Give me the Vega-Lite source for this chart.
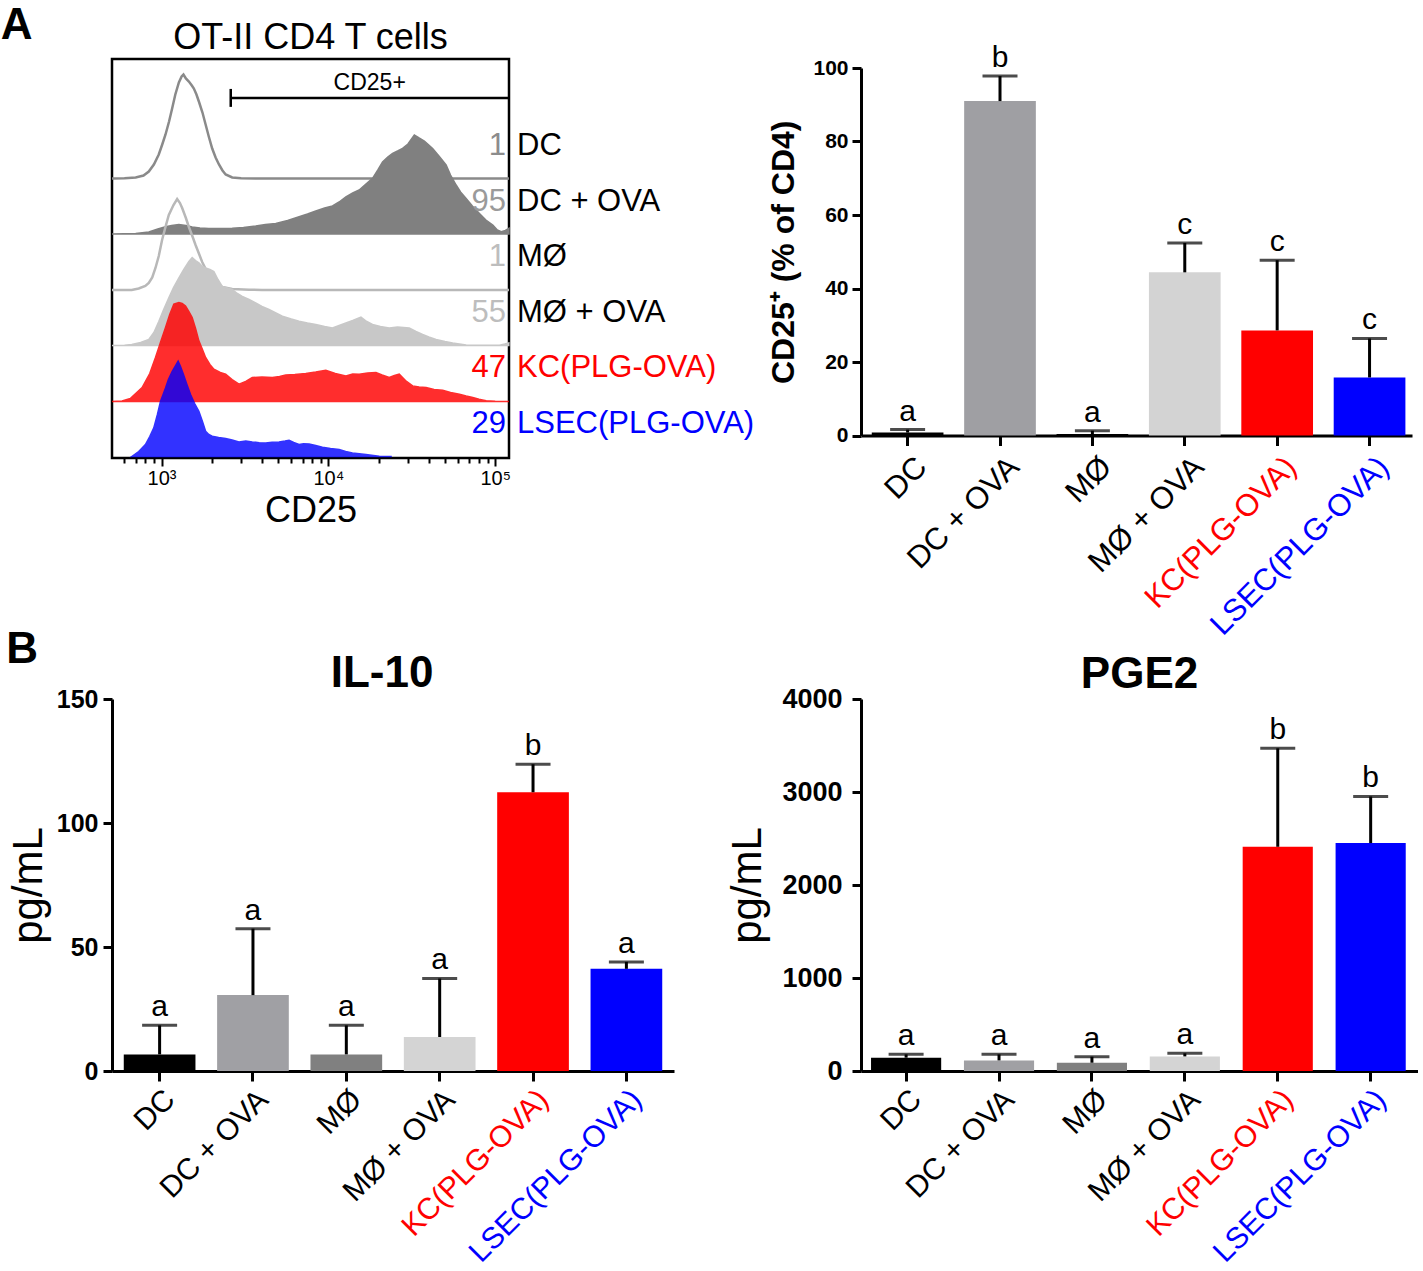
{
  "$schema": "https://vega.github.io/schema/vega-lite/v6.json",
  "padding": {"left": 0, "top": 3, "right": 0, "bottom": 0},
  "background": "#ffffff",
  "config": {
    "font": "Liberation Sans",
    "view": {"stroke": null},
    "axis": {"grid": false, "domainColor": "#000000", "tickColor": "#000000", "titleColor": "#000000"},
    "title": {"color": "#000000"}
  },
  "datasets": {
    "hist": [
      {"sample":"DC","cd25":505,"count":0},{"sample":"DC","cd25":600,"count":0.3},{"sample":"DC","cd25":700,"count":1},{"sample":"DC","cd25":780,"count":3},{"sample":"DC","cd25":839,"count":7},{"sample":"DC","cd25":900,"count":14},{"sample":"DC","cd25":963,"count":24},{"sample":"DC","cd25":1010,"count":34},{"sample":"DC","cd25":1057,"count":44},{"sample":"DC","cd25":1110,"count":57},{"sample":"DC","cd25":1158,"count":70},{"sample":"DC","cd25":1210,"count":84},{"sample":"DC","cd25":1271,"count":96},{"sample":"DC","cd25":1320,"count":102},{"sample":"DC","cd25":1354,"count":104},{"sample":"DC","cd25":1400,"count":100},{"sample":"DC","cd25":1459,"count":97},{"sample":"DC","cd25":1520,"count":93},{"sample":"DC","cd25":1563,"count":90},{"sample":"DC","cd25":1620,"count":84},{"sample":"DC","cd25":1675,"count":77},{"sample":"DC","cd25":1760,"count":66},{"sample":"DC","cd25":1838,"count":54},{"sample":"DC","cd25":1920,"count":42},{"sample":"DC","cd25":2013,"count":30},{"sample":"DC","cd25":2110,"count":21},{"sample":"DC","cd25":2210,"count":14},{"sample":"DC","cd25":2320,"count":8},{"sample":"DC","cd25":2424,"count":4},{"sample":"DC","cd25":2654,"count":1},{"sample":"DC","cd25":3000,"count":0.3},{"sample":"DC","cd25":4000,"count":0},{"sample":"DC","cd25":121000,"count":0},
      {"sample":"DC + OVA","cd25":505,"count":0},{"sample":"DC + OVA","cd25":700,"count":0.5},{"sample":"DC + OVA","cd25":839,"count":2},{"sample":"DC + OVA","cd25":950,"count":5},{"sample":"DC + OVA","cd25":1057,"count":7.3},{"sample":"DC + OVA","cd25":1150,"count":8.5},{"sample":"DC + OVA","cd25":1271,"count":9.6},{"sample":"DC + OVA","cd25":1400,"count":8.5},{"sample":"DC + OVA","cd25":1527,"count":7},{"sample":"DC + OVA","cd25":1700,"count":6},{"sample":"DC + OVA","cd25":1924,"count":5.6},{"sample":"DC + OVA","cd25":2300,"count":5.4},{"sample":"DC + OVA","cd25":2654,"count":5.8},{"sample":"DC + OVA","cd25":3100,"count":6.5},{"sample":"DC + OVA","cd25":3669,"count":8},{"sample":"DC + OVA","cd25":4200,"count":9.5},{"sample":"DC + OVA","cd25":4839,"count":10.6},{"sample":"DC + OVA","cd25":5700,"count":13.5},{"sample":"DC + OVA","cd25":6677,"count":17.3},{"sample":"DC + OVA","cd25":7500,"count":20},{"sample":"DC + OVA","cd25":8413,"count":23},{"sample":"DC + OVA","cd25":9500,"count":26},{"sample":"DC + OVA","cd25":10590,"count":28},{"sample":"DC + OVA","cd25":11600,"count":32},{"sample":"DC + OVA","cd25":12740,"count":37},{"sample":"DC + OVA","cd25":14000,"count":41},{"sample":"DC + OVA","cd25":15300,"count":44},{"sample":"DC + OVA","cd25":16800,"count":50},{"sample":"DC + OVA","cd25":18400,"count":55.6},{"sample":"DC + OVA","cd25":19800,"count":64},{"sample":"DC + OVA","cd25":21130,"count":72},{"sample":"DC + OVA","cd25":22700,"count":77},{"sample":"DC + OVA","cd25":24270,"count":80.6},{"sample":"DC + OVA","cd25":26000,"count":83},{"sample":"DC + OVA","cd25":27860,"count":85.6},{"sample":"DC + OVA","cd25":30000,"count":90},{"sample":"DC + OVA","cd25":32760,"count":99},{"sample":"DC + OVA","cd25":35000,"count":96},{"sample":"DC + OVA","cd25":37620,"count":93},{"sample":"DC + OVA","cd25":40000,"count":89},{"sample":"DC + OVA","cd25":42180,"count":85.6},{"sample":"DC + OVA","cd25":46000,"count":78},{"sample":"DC + OVA","cd25":50790,"count":69},{"sample":"DC + OVA","cd25":54000,"count":59},{"sample":"DC + OVA","cd25":58330,"count":49},{"sample":"DC + OVA","cd25":62000,"count":42},{"sample":"DC + OVA","cd25":66970,"count":35.6},{"sample":"DC + OVA","cd25":73000,"count":28},{"sample":"DC + OVA","cd25":80480,"count":20.6},{"sample":"DC + OVA","cd25":88000,"count":14},{"sample":"DC + OVA","cd25":96760,"count":9},{"sample":"DC + OVA","cd25":103000,"count":4},{"sample":"DC + OVA","cd25":108700,"count":2.3},{"sample":"DC + OVA","cd25":115000,"count":3.5},{"sample":"DC + OVA","cd25":121000,"count":5.6},
      {"sample":"MØ","cd25":505,"count":0},{"sample":"MØ","cd25":663,"count":0},{"sample":"MØ","cd25":730,"count":1.5},{"sample":"MØ","cd25":800,"count":4},{"sample":"MØ","cd25":839,"count":7},{"sample":"MØ","cd25":880,"count":12.6},{"sample":"MØ","cd25":920,"count":22},{"sample":"MØ","cd25":963,"count":34},{"sample":"MØ","cd25":1008,"count":50},{"sample":"MØ","cd25":1060,"count":64},{"sample":"MØ","cd25":1106,"count":75},{"sample":"MØ","cd25":1180,"count":85},{"sample":"MØ","cd25":1241,"count":91},{"sample":"MØ","cd25":1290,"count":87},{"sample":"MØ","cd25":1330,"count":82},{"sample":"MØ","cd25":1400,"count":72},{"sample":"MØ","cd25":1459,"count":63},{"sample":"MØ","cd25":1530,"count":54},{"sample":"MØ","cd25":1600,"count":45},{"sample":"MØ","cd25":1680,"count":36},{"sample":"MØ","cd25":1753,"count":28},{"sample":"MØ","cd25":1840,"count":21},{"sample":"MØ","cd25":1924,"count":16},{"sample":"MØ","cd25":2013,"count":11},{"sample":"MØ","cd25":2110,"count":8},{"sample":"MØ","cd25":2312,"count":3},{"sample":"MØ","cd25":2654,"count":1},{"sample":"MØ","cd25":3345,"count":0.3},{"sample":"MØ","cd25":4000,"count":0},{"sample":"MØ","cd25":121000,"count":0},
      {"sample":"MØ + OVA","cd25":505,"count":0},{"sample":"MØ + OVA","cd25":600,"count":0.3},{"sample":"MØ + OVA","cd25":663,"count":1},{"sample":"MØ + OVA","cd25":750,"count":3},{"sample":"MØ + OVA","cd25":839,"count":6},{"sample":"MØ + OVA","cd25":900,"count":13},{"sample":"MØ + OVA","cd25":963,"count":24},{"sample":"MØ + OVA","cd25":1030,"count":36},{"sample":"MØ + OVA","cd25":1106,"count":47.6},{"sample":"MØ + OVA","cd25":1180,"count":58},{"sample":"MØ + OVA","cd25":1271,"count":67.6},{"sample":"MØ + OVA","cd25":1360,"count":76},{"sample":"MØ + OVA","cd25":1459,"count":84},{"sample":"MØ + OVA","cd25":1527,"count":88},{"sample":"MØ + OVA","cd25":1600,"count":85},{"sample":"MØ + OVA","cd25":1675,"count":82.6},{"sample":"MØ + OVA","cd25":1760,"count":79},{"sample":"MØ + OVA","cd25":1838,"count":77.6},{"sample":"MØ + OVA","cd25":1950,"count":76},{"sample":"MØ + OVA","cd25":2061,"count":74},{"sample":"MØ + OVA","cd25":2180,"count":66},{"sample":"MØ + OVA","cd25":2312,"count":59},{"sample":"MØ + OVA","cd25":2480,"count":57.5},{"sample":"MØ + OVA","cd25":2654,"count":56},{"sample":"MØ + OVA","cd25":2850,"count":52},{"sample":"MØ + OVA","cd25":3048,"count":49},{"sample":"MØ + OVA","cd25":3350,"count":46},{"sample":"MØ + OVA","cd25":3669,"count":42.6},{"sample":"MØ + OVA","cd25":4000,"count":39},{"sample":"MØ + OVA","cd25":4410,"count":36},{"sample":"MØ + OVA","cd25":4850,"count":32.5},{"sample":"MØ + OVA","cd25":5302,"count":29.3},{"sample":"MØ + OVA","cd25":6000,"count":26.5},{"sample":"MØ + OVA","cd25":6677,"count":24.3},{"sample":"MØ + OVA","cd25":7500,"count":22.5},{"sample":"MØ + OVA","cd25":8413,"count":21},{"sample":"MØ + OVA","cd25":9500,"count":19},{"sample":"MØ + OVA","cd25":10590,"count":17.6},{"sample":"MØ + OVA","cd25":11600,"count":20},{"sample":"MØ + OVA","cd25":12740,"count":22.6},{"sample":"MØ + OVA","cd25":14000,"count":25},{"sample":"MØ + OVA","cd25":15680,"count":28.3},{"sample":"MØ + OVA","cd25":17000,"count":24},{"sample":"MØ + OVA","cd25":18400,"count":21},{"sample":"MØ + OVA","cd25":20500,"count":19},{"sample":"MØ + OVA","cd25":23180,"count":17.6},{"sample":"MØ + OVA","cd25":26000,"count":18.5},{"sample":"MØ + OVA","cd25":30550,"count":17.6},{"sample":"MØ + OVA","cd25":33500,"count":14},{"sample":"MØ + OVA","cd25":36750,"count":11},{"sample":"MØ + OVA","cd25":40000,"count":8.5},{"sample":"MØ + OVA","cd25":44230,"count":6},{"sample":"MØ + OVA","cd25":50000,"count":4},{"sample":"MØ + OVA","cd25":55650,"count":2.6},{"sample":"MØ + OVA","cd25":66970,"count":0.6},{"sample":"MØ + OVA","cd25":90000,"count":0.3},{"sample":"MØ + OVA","cd25":106100,"count":0.3},{"sample":"MØ + OVA","cd25":114000,"count":1.5},{"sample":"MØ + OVA","cd25":120700,"count":2.6},
      {"sample":"KC(PLG-OVA)","cd25":505,"count":0},{"sample":"KC(PLG-OVA)","cd25":580,"count":0.5},{"sample":"KC(PLG-OVA)","cd25":650,"count":3},{"sample":"KC(PLG-OVA)","cd25":765,"count":14},{"sample":"KC(PLG-OVA)","cd25":850,"count":28},{"sample":"KC(PLG-OVA)","cd25":920,"count":44},{"sample":"KC(PLG-OVA)","cd25":990,"count":60},{"sample":"KC(PLG-OVA)","cd25":1057,"count":74},{"sample":"KC(PLG-OVA)","cd25":1120,"count":87},{"sample":"KC(PLG-OVA)","cd25":1186,"count":97.3},{"sample":"KC(PLG-OVA)","cd25":1271,"count":99},{"sample":"KC(PLG-OVA)","cd25":1330,"count":98},{"sample":"KC(PLG-OVA)","cd25":1393,"count":95.6},{"sample":"KC(PLG-OVA)","cd25":1460,"count":90},{"sample":"KC(PLG-OVA)","cd25":1527,"count":84},{"sample":"KC(PLG-OVA)","cd25":1600,"count":73},{"sample":"KC(PLG-OVA)","cd25":1675,"count":60.6},{"sample":"KC(PLG-OVA)","cd25":1760,"count":52},{"sample":"KC(PLG-OVA)","cd25":1838,"count":44},{"sample":"KC(PLG-OVA)","cd25":1950,"count":37},{"sample":"KC(PLG-OVA)","cd25":2061,"count":32.3},{"sample":"KC(PLG-OVA)","cd25":2250,"count":29},{"sample":"KC(PLG-OVA)","cd25":2424,"count":27.3},{"sample":"KC(PLG-OVA)","cd25":2650,"count":22},{"sample":"KC(PLG-OVA)","cd25":2914,"count":17.3},{"sample":"KC(PLG-OVA)","cd25":3200,"count":20},{"sample":"KC(PLG-OVA)","cd25":3500,"count":24},{"sample":"KC(PLG-OVA)","cd25":4000,"count":24.5},{"sample":"KC(PLG-OVA)","cd25":4616,"count":24},{"sample":"KC(PLG-OVA)","cd25":5100,"count":25},{"sample":"KC(PLG-OVA)","cd25":5557,"count":26.6},{"sample":"KC(PLG-OVA)","cd25":6300,"count":27},{"sample":"KC(PLG-OVA)","cd25":7324,"count":28},{"sample":"KC(PLG-OVA)","cd25":8400,"count":29.5},{"sample":"KC(PLG-OVA)","cd25":9656,"count":31.3},{"sample":"KC(PLG-OVA)","cd25":11000,"count":28},{"sample":"KC(PLG-OVA)","cd25":12740,"count":25.6},{"sample":"KC(PLG-OVA)","cd25":14000,"count":27.5},{"sample":"KC(PLG-OVA)","cd25":15300,"count":27.3},{"sample":"KC(PLG-OVA)","cd25":17200,"count":28.5},{"sample":"KC(PLG-OVA)","cd25":19290,"count":29},{"sample":"KC(PLG-OVA)","cd25":21000,"count":26.5},{"sample":"KC(PLG-OVA)","cd25":23180,"count":24},{"sample":"KC(PLG-OVA)","cd25":24900,"count":26},{"sample":"KC(PLG-OVA)","cd25":26610,"count":27.3},{"sample":"KC(PLG-OVA)","cd25":29000,"count":21},{"sample":"KC(PLG-OVA)","cd25":32000,"count":15.6},{"sample":"KC(PLG-OVA)","cd25":35000,"count":14.5},{"sample":"KC(PLG-OVA)","cd25":38500,"count":14},{"sample":"KC(PLG-OVA)","cd25":43000,"count":12},{"sample":"KC(PLG-OVA)","cd25":48430,"count":11.3},{"sample":"KC(PLG-OVA)","cd25":54000,"count":9},{"sample":"KC(PLG-OVA)","cd25":61030,"count":7.3},{"sample":"KC(PLG-OVA)","cd25":67000,"count":5.5},{"sample":"KC(PLG-OVA)","cd25":73400,"count":4},{"sample":"KC(PLG-OVA)","cd25":80000,"count":2.3},{"sample":"KC(PLG-OVA)","cd25":88270,"count":0.7},{"sample":"KC(PLG-OVA)","cd25":100000,"count":0.2},{"sample":"KC(PLG-OVA)","cd25":121000,"count":0},
      {"sample":"LSEC(PLG-OVA)","cd25":663,"count":0},{"sample":"LSEC(PLG-OVA)","cd25":730,"count":5},{"sample":"LSEC(PLG-OVA)","cd25":801,"count":12},{"sample":"LSEC(PLG-OVA)","cd25":850,"count":20},{"sample":"LSEC(PLG-OVA)","cd25":899,"count":28.6},{"sample":"LSEC(PLG-OVA)","cd25":945,"count":42},{"sample":"LSEC(PLG-OVA)","cd25":986,"count":55},{"sample":"LSEC(PLG-OVA)","cd25":1057,"count":68.6},{"sample":"LSEC(PLG-OVA)","cd25":1100,"count":77},{"sample":"LSEC(PLG-OVA)","cd25":1158,"count":85},{"sample":"LSEC(PLG-OVA)","cd25":1258,"count":95.3},{"sample":"LSEC(PLG-OVA)","cd25":1300,"count":90},{"sample":"LSEC(PLG-OVA)","cd25":1354,"count":82},{"sample":"LSEC(PLG-OVA)","cd25":1420,"count":72},{"sample":"LSEC(PLG-OVA)","cd25":1493,"count":62},{"sample":"LSEC(PLG-OVA)","cd25":1580,"count":53},{"sample":"LSEC(PLG-OVA)","cd25":1675,"count":45.3},{"sample":"LSEC(PLG-OVA)","cd25":1760,"count":35},{"sample":"LSEC(PLG-OVA)","cd25":1838,"count":25.3},{"sample":"LSEC(PLG-OVA)","cd25":1920,"count":22},{"sample":"LSEC(PLG-OVA)","cd25":2013,"count":20.3},{"sample":"LSEC(PLG-OVA)","cd25":2200,"count":19},{"sample":"LSEC(PLG-OVA)","cd25":2424,"count":18},{"sample":"LSEC(PLG-OVA)","cd25":2650,"count":16.5},{"sample":"LSEC(PLG-OVA)","cd25":2914,"count":14.6},{"sample":"LSEC(PLG-OVA)","cd25":3200,"count":15.5},{"sample":"LSEC(PLG-OVA)","cd25":3500,"count":14.6},{"sample":"LSEC(PLG-OVA)","cd25":3850,"count":13.8},{"sample":"LSEC(PLG-OVA)","cd25":4213,"count":13.6},{"sample":"LSEC(PLG-OVA)","cd25":4600,"count":14.2},{"sample":"LSEC(PLG-OVA)","cd25":5065,"count":14.6},{"sample":"LSEC(PLG-OVA)","cd25":5500,"count":15.5},{"sample":"LSEC(PLG-OVA)","cd25":5815,"count":16.3},{"sample":"LSEC(PLG-OVA)","cd25":6200,"count":14},{"sample":"LSEC(PLG-OVA)","cd25":6677,"count":12},{"sample":"LSEC(PLG-OVA)","cd25":7100,"count":12.8},{"sample":"LSEC(PLG-OVA)","cd25":7667,"count":12.6},{"sample":"LSEC(PLG-OVA)","cd25":8400,"count":11},{"sample":"LSEC(PLG-OVA)","cd25":9216,"count":9.3},{"sample":"LSEC(PLG-OVA)","cd25":10300,"count":8},{"sample":"LSEC(PLG-OVA)","cd25":11607,"count":7},{"sample":"LSEC(PLG-OVA)","cd25":12700,"count":5},{"sample":"LSEC(PLG-OVA)","cd25":13950,"count":3.6},{"sample":"LSEC(PLG-OVA)","cd25":16800,"count":2},{"sample":"LSEC(PLG-OVA)","cd25":20180,"count":0.3},{"sample":"LSEC(PLG-OVA)","cd25":24000,"count":0}
    ],
    "hlabels": [
      {"sample":"DC","pct":"1"},{"sample":"DC + OVA","pct":"95"},{"sample":"MØ","pct":"1"},{"sample":"MØ + OVA","pct":"55"},{"sample":"KC(PLG-OVA)","pct":"47"},{"sample":"LSEC(PLG-OVA)","pct":"29"}
    ],
    "gate": [{"gate":"CD25+","from":2600,"to":121000}],
    "cd25": [
      {"group":"DC","mean":0.8,"upper":1.6,"letter":"a"},
      {"group":"DC + OVA","mean":91.0,"upper":97.8,"letter":"b"},
      {"group":"MØ","mean":0.4,"upper":1.3,"letter":"a"},
      {"group":"MØ + OVA","mean":44.4,"upper":52.4,"letter":"c"},
      {"group":"KC(PLG-OVA)","mean":28.6,"upper":47.7,"letter":"c"},
      {"group":"LSEC(PLG-OVA)","mean":15.8,"upper":26.4,"letter":"c"}
    ],
    "il10": [
      {"group":"DC","mean":6.7,"upper":18.4,"letter":"a"},
      {"group":"DC + OVA","mean":30.6,"upper":57.4,"letter":"a"},
      {"group":"MØ","mean":6.7,"upper":18.4,"letter":"a"},
      {"group":"MØ + OVA","mean":13.7,"upper":37.3,"letter":"a"},
      {"group":"KC(PLG-OVA)","mean":112.4,"upper":123.7,"letter":"b"},
      {"group":"LSEC(PLG-OVA)","mean":41.2,"upper":44.0,"letter":"a"}
    ],
    "pge2": [
      {"group":"DC","mean":143,"upper":179,"letter":"a"},
      {"group":"DC + OVA","mean":114,"upper":179,"letter":"a"},
      {"group":"MØ","mean":89,"upper":154,"letter":"a"},
      {"group":"MØ + OVA","mean":157,"upper":190,"letter":"a"},
      {"group":"KC(PLG-OVA)","mean":2411,"upper":3470,"letter":"b"},
      {"group":"LSEC(PLG-OVA)","mean":2451,"upper":2952,"letter":"b"}
    ]
  },
  "resolve": {"scale": {"color": "independent"}},
  "spacing": -13,
  "vconcat": [
    {
      "title": {"text": "A", "fontSize": 44, "fontWeight": "bold", "anchor": "start", "frame": "bounds", "dx": -105, "dy": 29, "offset": 0},
      "resolve": {"scale": {"color": "independent"}},
      "spacing": 11,
      "hconcat": [
        {
          "width": 397,
          "height": 399,
          "view": {"stroke": "#000000", "strokeWidth": 2.5},
          "title": {"text": "OT-II CD4 T cells", "fontSize": 36, "fontWeight": "normal", "anchor": "middle", "frame": "group", "offset": 2},
          "resolve": {"scale": {"y": "independent", "color": "independent"}},
          "layer": [
            {
              "data": {"name": "hist"},
              "transform": [{"filter": {"field": "sample", "equal": "DC"}}],
              "mark": {"type": "line", "stroke": "#8a8a8a", "strokeWidth": 2.5},
              "encoding": {
                "x": {"field": "cd25", "type": "quantitative", "title": "CD25",
                  "scale": {"type": "log", "domain": [505, 121000], "nice": false},
                  "axis": {"values": [600,700,800,900,1000,2000,3000,4000,5000,6000,7000,8000,9000,10000,20000,30000,40000,50000,60000,70000,80000,90000,100000],
                    "labelExpr": "datum.value == 1000 ? '10³' : datum.value == 10000 ? '10⁴' : datum.value == 100000 ? '10⁵' : ''",
                    "domain": false, "tickWidth": 2, "labelColor": "#000000",
                    "tickSize": {"condition": {"test": "datum.value == 1000 || datum.value == 10000 || datum.value == 100000", "value": 8}, "value": 5},
                    "labelFontSize": 20, "labelOverlap": false, "labelFlush": false, "labelPadding": 2,
                    "titleFontSize": 36, "titleFontWeight": "normal", "titlePadding": 5}},
                "y": {"field": "count", "type": "quantitative", "scale": {"domain": [0, 100], "range": [119.5, 19.5]}, "axis": null}
              }
            },
            {
              "data": {"name": "hist"},
              "transform": [{"filter": {"field": "sample", "equal": "DC + OVA"}}],
              "mark": {"type": "area", "color": "#808080", "stroke": "#808080", "strokeWidth": 1.5},
              "encoding": {
                "x": {"field": "cd25", "type": "quantitative", "scale": {"type": "log", "domain": [505, 121000], "nice": false}},
                "y": {"field": "count", "type": "quantitative", "scale": {"domain": [0, 100], "range": [175, 75]}, "axis": null}
              }
            },
            {
              "data": {"name": "hist"},
              "transform": [{"filter": {"field": "sample", "equal": "MØ"}}],
              "mark": {"type": "line", "stroke": "#b8b8b8", "strokeWidth": 2.5},
              "encoding": {
                "x": {"field": "cd25", "type": "quantitative", "scale": {"type": "log", "domain": [505, 121000], "nice": false}},
                "y": {"field": "count", "type": "quantitative", "scale": {"domain": [0, 100], "range": [231, 131]}, "axis": null}
              }
            },
            {
              "data": {"name": "hist"},
              "transform": [{"filter": {"field": "sample", "equal": "MØ + OVA"}}],
              "mark": {"type": "area", "color": "#c8c8c8", "stroke": "#c8c8c8", "strokeWidth": 1.5},
              "encoding": {
                "x": {"field": "cd25", "type": "quantitative", "scale": {"type": "log", "domain": [505, 121000], "nice": false}},
                "y": {"field": "count", "type": "quantitative", "scale": {"domain": [0, 100], "range": [286.5, 186.5]}, "axis": null}
              }
            },
            {
              "data": {"name": "hist"},
              "transform": [{"filter": {"field": "sample", "equal": "KC(PLG-OVA)"}}],
              "mark": {"type": "area", "color": "#ff0000", "opacity": 0.82, "stroke": "#ff0000", "strokeWidth": 1.5},
              "encoding": {
                "x": {"field": "cd25", "type": "quantitative", "scale": {"type": "log", "domain": [505, 121000], "nice": false}},
                "y": {"field": "count", "type": "quantitative", "scale": {"domain": [0, 100], "range": [342.5, 242.5]}, "axis": null}
              }
            },
            {
              "data": {"name": "hist"},
              "transform": [{"filter": {"field": "sample", "equal": "LSEC(PLG-OVA)"}}],
              "mark": {"type": "area", "color": "#0000ff", "opacity": 0.8, "stroke": "#0000ff", "strokeWidth": 1.5},
              "encoding": {
                "x": {"field": "cd25", "type": "quantitative", "scale": {"type": "log", "domain": [505, 121000], "nice": false}},
                "y": {"field": "count", "type": "quantitative", "scale": {"domain": [0, 100], "range": [397.5, 297.5]}, "axis": null}
              }
            },
            {
              "data": {"name": "gate"},
              "mark": {"type": "rule", "color": "#000000", "strokeWidth": 2.5},
              "encoding": {
                "x": {"field": "from", "type": "quantitative", "scale": {"type": "log", "domain": [505, 121000], "nice": false}},
                "x2": {"field": "to"},
                "y": {"datum": 90.2, "type": "quantitative", "scale": {"domain": [0, 100], "range": [399, 0]}, "axis": null}
              }
            },
            {
              "data": {"name": "gate"},
              "mark": {"type": "rule", "color": "#000000", "strokeWidth": 2.5},
              "encoding": {
                "x": {"field": "from", "type": "quantitative", "scale": {"type": "log", "domain": [505, 121000], "nice": false}},
                "y": {"datum": 92.5, "type": "quantitative", "scale": {"domain": [0, 100], "range": [399, 0]}, "axis": null},
                "y2": {"datum": 88.0}
              }
            },
            {
              "data": {"name": "gate"},
              "mark": {"type": "text", "color": "#000000", "fontSize": 23, "baseline": "middle", "align": "center"},
              "encoding": {
                "x": {"datum": 17700, "type": "quantitative", "scale": {"type": "log", "domain": [505, 121000], "nice": false}},
                "y": {"datum": 94.0, "type": "quantitative", "scale": {"domain": [0, 100], "range": [399, 0]}, "axis": null},
                "text": {"field": "gate"}
              }
            },
            {
              "data": {"name": "hlabels"},
              "mark": {"type": "text", "fontSize": 31, "align": "right", "baseline": "middle", "dx": -3},
              "encoding": {
                "x": {"datum": 121000, "type": "quantitative", "scale": {"type": "log", "domain": [505, 121000], "nice": false}},
                "y": {"field": "sample", "type": "nominal", "sort": null, "scale": {"type": "point", "domain": ["DC","DC + OVA","MØ","MØ + OVA","KC(PLG-OVA)","LSEC(PLG-OVA)"], "range": [87, 365], "padding": 0}, "axis": null},
                "text": {"field": "pct"},
                "color": {"field": "sample", "type": "nominal", "scale": {"domain": ["DC","DC + OVA","MØ","MØ + OVA","KC(PLG-OVA)","LSEC(PLG-OVA)"], "range": ["#8c8c8c","#9a9a9a","#bdbdbd","#bdbdbd","#ff0000","#0000ff"]}, "legend": null}
              }
            },
            {
              "data": {"name": "hlabels"},
              "mark": {"type": "text", "fontSize": 31, "align": "left", "baseline": "middle", "dx": 8},
              "encoding": {
                "x": {"datum": 121000, "type": "quantitative", "scale": {"type": "log", "domain": [505, 121000], "nice": false}},
                "y": {"field": "sample", "type": "nominal", "sort": null, "scale": {"type": "point", "domain": ["DC","DC + OVA","MØ","MØ + OVA","KC(PLG-OVA)","LSEC(PLG-OVA)"], "range": [87, 365], "padding": 0}, "axis": null},
                "text": {"field": "sample"},
                "color": {"field": "sample", "type": "nominal", "scale": {"domain": ["DC","DC + OVA","MØ","MØ + OVA","KC(PLG-OVA)","LSEC(PLG-OVA)"], "range": ["#000000","#000000","#000000","#000000","#ff0000","#0000ff"]}, "legend": null}
              }
            }
          ]
        },
        {
          "width": 551,
          "height": 376.5,
          "data": {"name": "cd25"},
          "encoding": {
            "x": {"field": "group", "type": "nominal", "sort": null, "title": null,
              "scale": {"paddingInner": 0.224, "paddingOuter": 0.094, "align": 0.62},
              "axis": {"labelAngle": -45, "labelAlign": "right", "labelBaseline": "top", "labelFontSize": 31, "labelPadding": 6, "labelOffset": 4, "labelLimit": 0,
                "tickSize": 10, "tickWidth": 3, "domainWidth": 3,
                "labelColor": {"condition": [{"test": "datum.value === 'KC(PLG-OVA)'", "value": "#ff0000"}, {"test": "datum.value === 'LSEC(PLG-OVA)'", "value": "#0000ff"}], "value": "#000000"}}}
          },
          "layer": [
            {
              "mark": {"type": "bar"},
              "encoding": {
                "y": {"field": "mean", "type": "quantitative", "scale": {"domain": [0, 100], "nice": false, "range": [376.5, 9]},
                  "axis": {"values": [0,20,40,60,80,100], "title": "CD25⁺ (% of CD4)", "tickSize": 9, "tickWidth": 3, "domainWidth": 3, "labelColor": "#000000",
                    "labelFontSize": 21, "labelFontWeight": "bold", "labelPadding": 4, "titleFontSize": 32, "titleFontWeight": "bold", "titlePadding": 12}},
                "color": {"field": "group", "type": "nominal", "sort": null, "legend": null,
                  "scale": {"domain": ["DC","DC + OVA","MØ","MØ + OVA","KC(PLG-OVA)","LSEC(PLG-OVA)"], "range": ["#000000","#9f9fa3","#000000","#d3d3d3","#ff0000","#0000ff"]}}
              }
            },
            {
              "mark": {"type": "rule", "color": "#000000", "strokeWidth": 3},
              "encoding": {"y": {"field": "mean", "type": "quantitative"}, "y2": {"field": "upper"}}
            },
            {
              "mark": {"type": "tick", "color": "#000000", "thickness": 3, "size": 35},
              "encoding": {"y": {"field": "upper", "type": "quantitative"}}
            },
            {
              "mark": {"type": "text", "color": "#000000", "fontSize": 30, "baseline": "alphabetic", "dy": -9},
              "encoding": {"y": {"field": "upper", "type": "quantitative"}, "text": {"field": "letter"}}
            }
          ]
        }
      ]
    },
    {
      "title": {"text": "B", "fontSize": 44, "fontWeight": "bold", "anchor": "start", "frame": "bounds", "dx": -1, "dy": 20, "offset": 0},
      "resolve": {"scale": {"color": "independent"}},
      "spacing": 52,
      "hconcat": [
        {
          "width": 562,
          "height": 372,
          "data": {"name": "il10"},
          "title": {"text": "IL-10", "fontSize": 44, "fontWeight": "bold", "anchor": "middle", "frame": "group", "offset": -9, "dx": -11},
          "encoding": {
            "x": {"field": "group", "type": "nominal", "sort": null, "title": null,
              "scale": {"paddingInner": 0.232, "paddingOuter": 0.126, "align": 0.5},
              "axis": {"labelAngle": -45, "labelAlign": "right", "labelBaseline": "top", "labelFontSize": 30, "labelPadding": 3, "labelLimit": 0,
                "tickSize": 10, "tickWidth": 3, "domainWidth": 3,
                "labelColor": {"condition": [{"test": "datum.value === 'KC(PLG-OVA)'", "value": "#ff0000"}, {"test": "datum.value === 'LSEC(PLG-OVA)'", "value": "#0000ff"}], "value": "#000000"}}}
          },
          "layer": [
            {
              "mark": {"type": "bar"},
              "encoding": {
                "y": {"field": "mean", "type": "quantitative", "scale": {"domain": [0, 150], "nice": false},
                  "axis": {"values": [0,50,100,150], "title": "pg/mL", "tickSize": 9, "tickWidth": 3, "domainWidth": 3, "labelColor": "#000000",
                    "labelFontSize": 25, "labelFontWeight": "bold", "labelPadding": 5, "titleFontSize": 42, "titleFontWeight": "normal", "titlePadding": 6}},
                "color": {"field": "group", "type": "nominal", "sort": null, "legend": null,
                  "scale": {"domain": ["DC","DC + OVA","MØ","MØ + OVA","KC(PLG-OVA)","LSEC(PLG-OVA)"], "range": ["#000000","#a0a0a4","#808080","#d4d4d4","#ff0000","#0000ff"]}}
              }
            },
            {
              "mark": {"type": "rule", "color": "#000000", "strokeWidth": 3},
              "encoding": {"y": {"field": "mean", "type": "quantitative"}, "y2": {"field": "upper"}}
            },
            {
              "mark": {"type": "tick", "color": "#000000", "thickness": 3, "size": 35},
              "encoding": {"y": {"field": "upper", "type": "quantitative"}}
            },
            {
              "mark": {"type": "text", "color": "#000000", "fontSize": 30, "baseline": "alphabetic", "dy": -9},
              "encoding": {"y": {"field": "upper", "type": "quantitative"}, "text": {"field": "letter"}}
            }
          ]
        },
        {
          "width": 557,
          "height": 372,
          "data": {"name": "pge2"},
          "title": {"text": "PGE2", "fontSize": 44, "fontWeight": "bold", "anchor": "middle", "frame": "group", "offset": -12},
          "encoding": {
            "x": {"field": "group", "type": "nominal", "sort": null, "title": null,
              "scale": {"paddingInner": 0.245, "paddingOuter": 0.12, "align": 0.45},
              "axis": {"labelAngle": -45, "labelAlign": "right", "labelBaseline": "top", "labelFontSize": 30, "labelPadding": 3, "labelLimit": 0,
                "tickSize": 10, "tickWidth": 3, "domainWidth": 3,
                "labelColor": {"condition": [{"test": "datum.value === 'KC(PLG-OVA)'", "value": "#ff0000"}, {"test": "datum.value === 'LSEC(PLG-OVA)'", "value": "#0000ff"}], "value": "#000000"}}}
          },
          "layer": [
            {
              "mark": {"type": "bar"},
              "encoding": {
                "y": {"field": "mean", "type": "quantitative", "scale": {"domain": [0, 4000], "nice": false},
                  "axis": {"values": [0,1000,2000,3000,4000], "format": "d", "title": "pg/mL", "tickSize": 9, "tickWidth": 3, "domainWidth": 3, "labelColor": "#000000",
                    "labelFontSize": 27, "labelFontWeight": "bold", "labelPadding": 10, "titleFontSize": 42, "titleFontWeight": "normal", "titlePadding": 12}},
                "color": {"field": "group", "type": "nominal", "sort": null, "legend": null,
                  "scale": {"domain": ["DC","DC + OVA","MØ","MØ + OVA","KC(PLG-OVA)","LSEC(PLG-OVA)"], "range": ["#000000","#a0a0a4","#808080","#d4d4d4","#ff0000","#0000ff"]}}
              }
            },
            {
              "mark": {"type": "rule", "color": "#000000", "strokeWidth": 3},
              "encoding": {"y": {"field": "mean", "type": "quantitative"}, "y2": {"field": "upper"}}
            },
            {
              "mark": {"type": "tick", "color": "#000000", "thickness": 3, "size": 35},
              "encoding": {"y": {"field": "upper", "type": "quantitative"}}
            },
            {
              "mark": {"type": "text", "color": "#000000", "fontSize": 30, "baseline": "alphabetic", "dy": -9},
              "encoding": {"y": {"field": "upper", "type": "quantitative"}, "text": {"field": "letter"}}
            }
          ]
        }
      ]
    }
  ]
}
